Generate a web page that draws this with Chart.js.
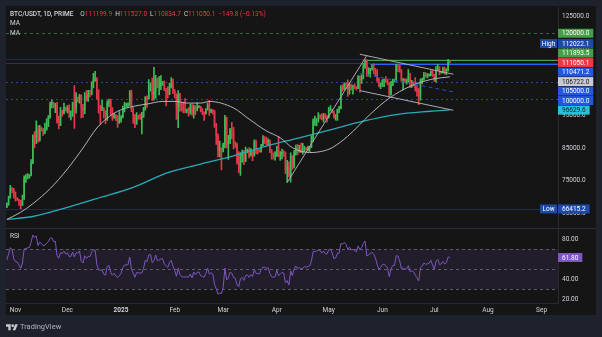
<!DOCTYPE html>
<html lang="en">
<head>
<meta charset="utf-8">
<title>BTC/USDT · 1D</title>
<script src="https://cdn.jsdelivr.net/npm/chart.js@4.4.1/dist/chart.umd.min.js"></script>
<style>
  html, body { margin: 0; padding: 0; background: #1e222d; }
  #wrap { position: relative; width: 602px; height: 337px; overflow: hidden; font-family: Roboto, 'Liberation Sans', sans-serif; }
  #chart { position: absolute; left: 0; top: 0; }
  .txt { position: absolute; left: 10px; font-size: 6.5px; line-height: 8px; color: #d1d4dc; white-space: nowrap; }
  .txt b { font-weight: 500; margin-right: 4px; }
  .txt i { font-style: normal; margin-left: 3px; }
  .dn { color: #f23645; }
  .upc { color: #3dbb55; }
  #brand { position: absolute; left: 6px; top: 322px; font-size: 7.5px; line-height: 10px; color: #b2b5be; display: flex; align-items: center; gap: 2px; }
</style>
</head>
<body>
<div id="wrap">
  <canvas id="chart" width="602" height="337"></canvas>
  <div class="txt" id="head" style="top:10px"></div>
  <div class="txt" style="top:19px">MA</div>
  <div class="txt" style="top:29px">MA</div>
  <div class="txt" style="top:232px">RSI</div>
  <div id="brand">
    <svg width="12" height="8" viewBox="0 0 36 24"><path d="M14 22H7V11H0V4h14v18zM28 22h-8l7.5-18h8L28 22z" fill="#c8cad0"/><circle cx="20" cy="8" r="4" fill="#c8cad0"/></svg>
    TradingView
  </div>
</div>

<script>
// --- Daily candles, BTC/USDT, in thousands. First candle is 27 Oct 2024 ---

// closes before the first visible day, only used to warm up the RSI
const warmupCloses = [63.0, 63.3, 63.6, 63.3, 64.3, 63.1, 65.2, 65.8, 65.9, 65.6, 63.3,
  60.8, 60.6, 60.8, 62.1, 62.1, 62.8, 62.2, 62.1, 60.6, 60.3, 62.4, 63.2, 62.8, 66.0,
  67.0, 67.6, 67.4, 68.4, 68.4, 69.0, 67.4, 67.4, 66.7, 68.2, 66.6, 67.0];

const closes = [
  67.9, 69.9, 72.7, 72.3, 70.2,
  // Nov
  69.5, 69.4, 68.7, 67.8, 69.4, 75.9, 76.0, 76.5, 76.7, 80.4,
  88.7, 87.9, 90.5, 87.3, 91.1, 90.6, 89.8, 90.5, 92.3, 94.3,
  98.3, 98.9, 97.7, 98.0, 93.0, 91.9, 95.9, 95.6, 97.5, 96.4,
  // Dec
  97.2, 95.8, 96.0, 98.8, 97.0, 99.9, 99.8, 101.2, 97.3, 96.6,
  101.1, 100.0, 101.4, 101.3, 104.3, 106.0, 106.1, 100.2, 97.5, 97.2,
  97.3, 95.1, 94.7, 98.7, 99.4, 95.8, 94.2, 95.1, 93.6, 92.8, 93.4,
  // Jan
  94.4, 96.9, 98.1, 98.2, 98.3, 102.1, 96.9, 95.0, 92.5, 94.7,
  94.6, 94.5, 94.5, 96.5, 100.5, 99.9, 104.1, 104.4, 101.1, 102.3,
  106.1, 103.6, 104.0, 104.7, 104.8, 102.6, 102.0, 101.3, 103.7, 104.7, 102.4,
  // Feb
  100.6, 97.7, 101.4, 97.9, 96.6, 96.5, 96.4, 96.5, 96.4, 97.4,
  95.7, 97.8, 96.6, 97.5, 97.6, 96.1, 95.8, 95.5, 96.6, 98.3,
  96.1, 96.6, 96.2, 91.5, 88.7, 84.3, 84.7, 84.3,
  // Mar
  86.1, 94.3, 86.1, 87.2, 90.6, 89.9, 86.7, 86.2, 80.7, 78.5,
  82.9, 83.7, 81.1, 83.9, 84.3, 82.6, 84.0, 82.7, 86.8, 84.2,
  84.0, 83.8, 86.1, 87.5, 87.4, 86.9, 87.2, 84.4, 82.6, 82.4, 82.5,
  // Apr
  85.2, 82.5, 83.1, 83.8, 83.5, 78.4, 79.2, 76.3, 82.6, 79.6,
  83.4, 85.3, 83.7, 84.5, 83.6, 84.0, 84.9, 84.5, 85.1, 85.2,
  87.5, 93.4, 93.7, 93.9, 94.7, 94.6, 93.8, 95.0, 94.3, 94.2,
  // May
  96.5, 96.9, 95.9, 94.3, 94.7, 96.8, 97.0, 103.2, 103.0, 104.6,
  104.1, 102.8, 104.2, 103.5, 103.8, 103.5, 103.2, 106.5, 105.6, 106.8,
  109.7, 111.7, 107.3, 107.8, 109.0, 109.4, 108.9, 107.8, 105.6, 103.9, 104.6,
  // Jun
  105.7, 105.9, 105.4, 104.7, 101.5, 104.3, 105.6, 105.7, 110.3, 110.2,
  108.6, 105.6, 106.1, 105.4, 105.6, 106.8, 104.6, 104.9, 104.6, 103.3,
  102.2, 100.9, 105.4, 106.0, 107.3, 106.9, 107.1, 107.3, 108.4, 107.1,
  // Jul
  105.7, 108.8, 109.6, 108.0, 108.2, 109.2, 108.42, 108.9, 111.1999, 111.0501
];

const highs = [
  68.3, 70.3, 73.6, 72.9, 72.7,
  71.6, 69.9, 69.4, 69.0, 70.6, 76.5, 76.9, 77.2, 76.9, 81.5,
  89.0, 89.9, 93.3, 91.8, 91.9, 91.4, 91.0, 92.6, 94.0, 94.9,
  99.0, 99.6, 98.9, 98.6, 98.9, 94.7, 97.4, 96.6, 98.7, 97.5,
  97.9, 98.2, 96.3, 99.0, 104.0, 101.9, 100.5, 101.4, 101.2, 98.3,
  101.9, 102.5, 102.6, 102.6, 105.2, 107.8, 108.4, 106.5, 102.8, 98.0,
  99.5, 97.3, 96.4, 99.4, 99.9, 99.9, 97.3, 95.5, 95.2, 94.9, 96.1,
  94.9, 97.8, 98.9, 98.7, 98.8, 102.5, 102.7, 97.3, 95.3, 95.8,
  95.0, 95.4, 95.9, 97.4, 100.7, 100.9, 105.9, 104.9, 106.3, 109.6,
  107.2, 106.3, 106.8, 107.1, 105.3, 105.5, 103.2, 103.7, 104.8, 106.5, 106.0,
  102.8, 101.5, 102.5, 101.7, 99.0, 99.0, 100.1, 96.9, 97.3, 98.3,
  98.5, 98.1, 97.9, 98.8, 97.9, 97.7, 97.0, 96.0, 97.0, 98.8,
  99.5, 96.9, 96.7, 96.5, 92.5, 89.3, 87.1, 85.1,
  86.5, 95.0, 94.4, 88.9, 91.0, 92.8, 91.3, 86.9, 86.5, 83.9,
  83.6, 84.4, 84.3, 85.3, 84.7, 85.1, 84.8, 84.0, 87.5, 87.4,
  84.8, 84.5, 86.1, 88.8, 88.5, 88.3, 87.8, 87.5, 84.6, 83.5, 83.9,
  85.6, 88.5, 83.9, 84.7, 84.2, 83.8, 81.2, 80.8, 83.5, 82.7,
  84.3, 85.9, 86.1, 85.8, 86.5, 86.4, 85.5, 85.1, 85.6, 85.5,
  88.8, 93.9, 94.7, 94.0, 95.8, 95.2, 95.4, 95.6, 95.5, 95.0,
  97.4, 97.9, 96.9, 96.3, 95.2, 96.9, 97.7, 104.0, 104.3, 104.9,
  104.9, 105.8, 104.8, 104.4, 104.2, 104.6, 103.7, 107.1, 107.0, 107.3,
  110.8, 111.98, 111.9, 109.5, 109.3, 110.4, 110.7, 109.3, 108.9, 106.3, 104.9,
  105.9, 106.0, 106.8, 105.9, 105.0, 105.3, 106.0, 106.0, 110.5, 110.4,
  110.4, 108.9, 106.2, 106.2, 106.0, 108.9, 107.8, 105.6, 105.2, 106.5,
  104.0, 103.1, 106.1, 106.3, 108.1, 108.0, 107.7, 107.6, 108.5, 108.8,
  107.5, 109.8, 110.5, 109.8, 108.4, 109.7, 109.7, 109.2, 112.0221, 111.527
];

const lows = [
  66.8, 67.5, 69.7, 71.4, 69.7,
  68.8, 69.0, 67.5, 66.4152, 67.4, 69.3, 74.5, 75.6, 75.8, 76.5,
  80.2, 85.1, 86.3, 86.7, 87.1, 90.1, 88.8, 89.4, 90.4, 91.5,
  94.1, 97.2, 97.2, 95.8, 92.6, 90.8, 91.8, 94.7, 95.4, 96.2,
  95.7, 94.3, 93.6, 94.6, 91.0, 95.6, 99.0, 98.7, 94.2, 94.3,
  95.5, 99.3, 99.2, 100.6, 101.2, 103.3, 105.3, 100.0, 95.6, 92.2,
  96.4, 94.2, 92.4, 93.4, 97.6, 95.2, 93.4, 94.0, 93.3, 91.3, 92.5,
  92.9, 94.2, 96.0, 97.5, 97.3, 97.9, 96.1, 92.5, 91.2, 92.2,
  93.8, 93.7, 89.3, 94.3, 96.5, 97.3, 99.9, 102.3, 99.5, 99.6,
  100.1, 103.3, 101.2, 102.8, 104.1, 102.5, 97.8, 100.3, 101.3, 103.3, 101.6,
  100.3, 93.7, 91.2, 96.2, 96.2, 95.7, 95.7, 95.7, 94.7, 95.3,
  94.9, 94.1, 95.2, 96.3, 97.2, 96.0, 95.2, 93.4, 95.3, 96.5,
  94.9, 95.8, 95.3, 91.3, 86.1, 82.3, 82.3, 78.3,
  83.8, 85.0, 85.1, 81.5, 86.3, 87.8, 84.7, 85.2, 80.1, 77.5,
  76.6, 80.6, 79.9, 80.8, 83.6, 82.0, 82.5, 81.1, 82.5, 83.2,
  83.2, 83.7, 83.7, 85.6, 86.3, 85.9, 85.8, 83.6, 81.6, 81.6, 81.3,
  82.4, 82.3, 81.2, 81.7, 82.4, 77.2, 74.5, 76.2, 74.6, 78.5,
  78.9, 82.8, 83.0, 83.7, 83.6, 83.1, 83.9, 84.3, 84.0, 83.9,
  85.1, 87.0, 91.9, 91.7, 92.9, 93.9, 93.6, 92.9, 93.8, 92.9,
  94.1, 96.3, 95.7, 94.1, 93.5, 93.4, 95.8, 96.9, 102.3, 102.8,
  103.1, 100.7, 101.4, 102.6, 101.4, 103.1, 102.6, 103.1, 102.0, 104.7,
  106.1, 109.3, 106.8, 106.9, 106.6, 108.7, 107.6, 106.8, 105.3, 103.6, 103.1,
  103.7, 103.7, 105.0, 104.2, 100.4, 101.1, 104.0, 105.1, 105.3, 108.3,
  108.1, 105.3, 102.7, 104.9, 104.5, 105.0, 103.4, 103.5, 103.9, 102.3,
  100.8, 98.2, 99.6, 104.6, 105.7, 106.6, 106.4, 106.9, 107.0, 106.8,
  105.3, 105.1, 108.6, 107.3, 107.8, 107.8, 107.5, 107.4, 108.4, 110.8347
];

// moving averages, sampled along the curves
const ma50Days = ['2024-10-27', '2024-11-04', '2024-11-11', '2024-11-21', '2024-12-01', '2024-12-10',
  '2024-12-18', '2024-12-24', '2024-12-30', '2025-01-08', '2025-01-16', '2025-01-25', '2025-02-02',
  '2025-02-08', '2025-02-16', '2025-02-21', '2025-03-07', '2025-03-16', '2025-03-26', '2025-04-03',
  '2025-04-10', '2025-04-20', '2025-04-28', '2025-05-03', '2025-05-12', '2025-05-25', '2025-06-05',
  '2025-06-17', '2025-06-29', '2025-07-10'];
const ma50Values = [63.2, 65.4, 68.0, 72.6, 78.6, 85.0, 91.1, 94.1, 96.2, 97.7, 98.4, 99.2, 99.2,
  98.7, 98.7, 99.2, 97.2, 93.8, 90.2, 88.1, 85.1, 83.6, 84.1, 85.1, 88.6, 95.3, 100.2, 103.8,
  105.9, 106.722];

const ma200Days = ['2024-10-27', '2024-11-11', '2024-12-01', '2024-12-20', '2025-01-08', '2025-01-28',
  '2025-02-16', '2025-03-07', '2025-03-26', '2025-04-14', '2025-05-03', '2025-05-21', '2025-06-09',
  '2025-06-29', '2025-07-10'];
const ma200Values = [63.2, 64.1, 66.9, 69.9, 73.0, 77.5, 80.1, 82.6, 85.6, 88.1, 90.7, 93.2, 95.2,
  96.2, 96.6296];

// horizontal levels and drawn trend lines (price in thousands)
const levelPrices = [120, 111.8935, 110.4712, 105, 100];
const levelStart = [null, '2025-05-23', '2025-05-25', null, null];
const trendFrom = [['2025-04-07', 74.5], ['2025-05-19', 113.6], ['2025-05-19', 102.5], ['2025-05-19', 107.8]];
const trendTo = [['2025-05-23', 113.2], ['2025-07-12', 107.5], ['2025-07-12', 96.5], ['2025-07-12', 102.1]];

// axis ticks
const priceTicks = [125, 115, 105, 95, 85, 75, 65];
const rsiTicks = [80, 60, 40, 20];
const rsiBands = [70, 50, 30];
const monthTickDays = ['2024-11-01', '2024-12-01', '2025-01-01', '2025-02-01', '2025-03-01', '2025-04-01',
  '2025-05-01', '2025-06-01', '2025-07-01', '2025-08-01', '2025-09-01'];
const monthTickText = ['Nov', 'Dec', '2025', 'Feb', 'Mar', 'Apr', 'May', 'Jun', 'Jul', 'Aug', 'Sep'];

// --- Derived series ---
const UP = '#3dbb55';
const DOWN = '#e5374a';
const FONT = 'Roboto';

// one category per calendar day, running past the last candle
const days = [];
for (let d = new Date(Date.UTC(2024, 9, 27)); d <= new Date(Date.UTC(2025, 8, 10)); d.setUTCDate(d.getUTCDate() + 1)) {
  days.push(d.toISOString().slice(0, 10));
}
const dayIndex = s => days.indexOf(s);

const opens = closes.map((c, i) => i === 0 ? warmupCloses[warmupCloses.length - 1] : closes[i - 1]);
const candleColors = closes.map((c, i) => c >= opens[i] ? UP : DOWN);
const bodyData = closes.map((c, i) => [opens[i], c]);
const wickData = closes.map((c, i) => [lows[i], highs[i]]);

function sparseSeries(dates, values) {
  const out = new Array(closes.length).fill(null);
  dates.forEach((d, i) => { out[dayIndex(d)] = values[i]; });
  return out;
}
const ma50Data = sparseSeries(ma50Days, ma50Values);
const ma200Data = sparseSeries(ma200Days, ma200Values);

// Wilder RSI(14)
function rsiSeries(values, period) {
  const out = new Array(values.length).fill(null);
  let gain = 0, loss = 0;
  for (let i = 1; i <= period; i++) {
    const ch = values[i] - values[i - 1];
    if (ch > 0) gain += ch; else loss -= ch;
  }
  gain /= period; loss /= period;
  out[period] = 100 - 100 / (1 + gain / loss);
  for (let i = period + 1; i < values.length; i++) {
    const ch = values[i] - values[i - 1];
    gain = (gain * (period - 1) + Math.max(ch, 0)) / period;
    loss = (loss * (period - 1) + Math.max(-ch, 0)) / period;
    out[i] = loss === 0 ? 100 : 100 - 100 / (1 + gain / loss);
  }
  return out;
}
const rsiData = rsiSeries(warmupCloses.concat(closes), 14).slice(warmupCloses.length);

const last = closes.length - 1;
const lastClose = closes[last];
const fmt = v => (v * 1000).toFixed(1);

// --- Header legend ---
(function () {
  const o = opens[last], h = highs[last], l = lows[last], c = closes[last];
  const ch = (c - o) * 1000;
  const pct = (c - o) / o * 100;
  const cls = c >= o ? 'upc' : 'dn';
  const sign = v => (v < 0 ? '\u2212' : '+') + Math.abs(v).toFixed(v === pct ? 2 : 1);
  document.getElementById('head').innerHTML =
    '<b>BTC/USDT, 1D, PRIME</b>' +
    '<i>O</i><span class="' + cls + '">' + fmt(o) + '</span>' +
    '<i>H</i><span class="' + cls + '">' + fmt(h) + '</span>' +
    '<i>L</i><span class="' + cls + '">' + fmt(l) + '</span>' +
    '<i>C</i><span class="' + cls + '">' + fmt(c) + '</span>' +
    '<span class="' + cls + '" style="margin-left:3px">' + sign(ch) + ' (' + sign(pct) + '%)</span>';
})();

// --- Price scale tags ---
const priceTags = [
  { v: levelPrices[0], bg: '#43a047', fg: '#ffffff' },
  { v: Math.max(...highs), bg: '#1c4aa6', fg: '#ffffff', side: 'High' },
  { v: levelPrices[1], bg: '#43a047', fg: '#ffffff' },
  { v: levelPrices[2], bg: '#2457e0', fg: '#ffffff' },
  { v: ma50Values[ma50Values.length - 1], bg: '#c9cbd1', fg: '#131722' },
  { v: levelPrices[3], bg: '#2457e0', fg: '#ffffff' },
  { v: levelPrices[4], bg: '#2457e0', fg: '#ffffff' },
  { v: ma200Values[ma200Values.length - 1], bg: '#22c3d6', fg: '#131722' },
  { v: Math.min(...lows), bg: '#1c4aa6', fg: '#ffffff', side: 'Low' }
];

const levelStyles = [
  { color: '#2c6b34', dash: [3, 3] },
  { color: '#4a9f55', dash: [] },
  { color: '#2962ff', dash: [] },
  { color: '#2a46a0', dash: [2, 3] },
  { color: '#2a46a0', dash: [2, 3] }
];

function hLine(ctx, x0, x1, py, color, dash) {
  ctx.strokeStyle = color;
  ctx.setLineDash(dash);
  ctx.beginPath();
  ctx.moveTo(x0, Math.round(py) + 0.5);
  ctx.lineTo(x1, Math.round(py) + 0.5);
  ctx.stroke();
}

function drawTag(ctx, left, py, text, bg, fg, side) {
  ctx.font = '6.5px ' + FONT;
  ctx.textBaseline = 'middle';
  const w = ctx.measureText(text).width + 8;
  ctx.fillStyle = bg;
  ctx.fillRect(left, py - 4.5, w, 9);
  ctx.fillStyle = fg;
  ctx.textAlign = 'left';
  ctx.fillText(text, left + 4, py + 0.5);
  if (side) {
    ctx.fillStyle = bg;
    ctx.fillRect(left - 18, py - 4.5, 17, 9);
    ctx.fillStyle = '#ffffff';
    ctx.textAlign = 'center';
    ctx.fillText(side, left - 9.5, py + 0.5);
  }
}

const overlay = {
  id: 'overlay',
  beforeDraw(chart) {
    const ctx = chart.ctx;
    ctx.save();
    ctx.fillStyle = '#151515';
    ctx.fillRect(6, 6, 590, 309);
    ctx.restore();
  },
  beforeDatasetsDraw(chart) {
    const { ctx, chartArea: a, scales: { y, rsi } } = chart;
    const x = chart.scales.x;
    ctx.save();
    ctx.lineWidth = 1;

    // RSI band and guide lines
    const t70 = rsi.getPixelForValue(70), t30 = rsi.getPixelForValue(30);
    ctx.fillStyle = 'rgba(126, 87, 194, 0.12)';
    ctx.fillRect(a.left, t70, a.width, t30 - t70);
    rsiBands.forEach(v => hLine(ctx, a.left, a.right, rsi.getPixelForValue(v), '#5f5c6b', [3, 3]));

    // pane separator
    hLine(ctx, 6, 596, rsi.top - 0.5, '#2a2e39', []);

    // high / low / last price lines
    hLine(ctx, a.left, a.right, y.getPixelForValue(Math.max(...highs)), '#1d2b52', []);
    hLine(ctx, a.left, a.right, y.getPixelForValue(Math.min(...lows)), '#1d2b52', []);
    hLine(ctx, a.left, a.right, y.getPixelForValue(lastClose), '#57262c', []);

    levelPrices.forEach((p, i) => {
      const x0 = levelStart[i] ? x.getPixelForValue(dayIndex(levelStart[i])) : a.left;
      hLine(ctx, x0, a.right, y.getPixelForValue(p), levelStyles[i].color, levelStyles[i].dash);
    });
    ctx.restore();
  },
  afterDatasetsDraw(chart) {
    const { ctx, scales: { x, y } } = chart;
    ctx.save();
    ctx.lineWidth = 1;
    trendFrom.forEach((f, i) => {
      const t = trendTo[i];
      ctx.strokeStyle = i === 3 ? '#2a4fc0' : '#a9abb3';
      ctx.setLineDash(i === 3 ? [4, 3] : []);
      ctx.beginPath();
      ctx.moveTo(x.getPixelForValue(dayIndex(f[0])), y.getPixelForValue(f[1]));
      ctx.lineTo(x.getPixelForValue(dayIndex(t[0])), y.getPixelForValue(t[1]));
      ctx.stroke();
    });
    ctx.restore();
  },
  afterDraw(chart) {
    const { ctx, scales: { y, rsi } } = chart;
    ctx.save();
    const gap = 9.5;
    const anchor = y.getPixelForValue(lastClose);
    const placed = priceTags.map(t => ({ ...t, py: y.getPixelForValue(t.v) }));
    // push tags away from the last price tag so they do not overlap
    let prev = anchor;
    placed.filter(t => t.v > lastClose).sort((a, b) => a.v - b.v).forEach(t => {
      t.py = Math.min(t.py, prev - gap); prev = t.py;
    });
    prev = anchor;
    placed.filter(t => t.v < lastClose).sort((a, b) => b.v - a.v).forEach(t => {
      t.py = Math.max(t.py, prev + gap); prev = t.py;
    });
    placed.forEach(t => drawTag(ctx, y.left, t.py, fmt(t.v), t.bg, t.fg, t.side));
    drawTag(ctx, y.left, anchor, fmt(lastClose), '#f23645', '#ffffff');

    const r = rsiData[last];
    drawTag(ctx, rsi.left, rsi.getPixelForValue(r), r.toFixed(2), '#7e57c2', '#ffffff');
    ctx.restore();
  }
};

const tickFont = { family: FONT, size: 6.5 };

new Chart(document.getElementById('chart'), {
  type: 'bar',
  data: {
    labels: days,
    datasets: [
      { type: 'line', data: rsiData, yAxisID: 'rsi', borderColor: '#7e57c2', borderWidth: 1, pointRadius: 0, order: 0 },
      { type: 'line', data: ma50Data, yAxisID: 'y', borderColor: '#b2b5be', borderWidth: 1, pointRadius: 0,
        spanGaps: true, cubicInterpolationMode: 'monotone', order: 1 },
      { type: 'line', data: ma200Data, yAxisID: 'y', borderColor: '#26abb8', borderWidth: 1.3, pointRadius: 0,
        spanGaps: true, cubicInterpolationMode: 'monotone', order: 1 },
      { data: bodyData, yAxisID: 'y', backgroundColor: candleColors, barPercentage: 0.8, categoryPercentage: 1,
        minBarLength: 1, grouped: false, order: 2 },
      { data: wickData, yAxisID: 'y', backgroundColor: candleColors, barThickness: 1, grouped: false, order: 3 }
    ]
  },
  options: {
    responsive: false,
    animation: false,
    events: [],
    devicePixelRatio: 1,
    layout: { padding: { left: 6, right: 6, top: 6, bottom: 22 } },
    plugins: { legend: { display: false }, tooltip: { enabled: false } },
    scales: {
      x: {
        type: 'category',
        grid: { display: false, drawTicks: false },
        border: { color: '#262a33' },
        afterBuildTicks: s => { s.ticks = monthTickDays.map(d => ({ value: dayIndex(d) })); },
        afterFit: s => { s.height = 12; },
        ticks: {
          autoSkip: false,
          maxRotation: 0,
          padding: 3,
          color: '#d1d4dc',
          font: c => ({ ...tickFont, weight: c.tick && c.tick.label === '2025' ? 'bold' : 'normal' }),
          callback: v => monthTickText[monthTickDays.indexOf(days[v])]
        }
      },
      y: {
        type: 'linear',
        axis: 'y',
        position: 'right',
        stack: 'panes',
        stackWeight: 222,
        min: 60.45,
        max: 127.73,
        grid: { display: false, drawTicks: false },
        border: { color: '#2a2a2a' },
        afterBuildTicks: s => { s.ticks = priceTicks.map(v => ({ value: v })); },
        afterFit: s => { s.width = 38; },
        ticks: { color: '#d1d4dc', font: tickFont, padding: 4, crossAlign: 'near', callback: v => fmt(v) }
      },
      rsi: {
        type: 'linear',
        axis: 'y',
        position: 'right',
        stack: 'panes',
        stackWeight: 75,
        min: 16,
        max: 91,
        grid: { display: false, drawTicks: false },
        border: { color: '#2a2a2a' },
        afterBuildTicks: s => { s.ticks = rsiTicks.map(v => ({ value: v })); },
        afterFit: s => { s.width = 38; },
        ticks: { color: '#d1d4dc', font: tickFont, padding: 4, crossAlign: 'near', callback: v => v.toFixed(2) }
      }
    }
  },
  plugins: [overlay]
});
</script>
</body>
</html>
